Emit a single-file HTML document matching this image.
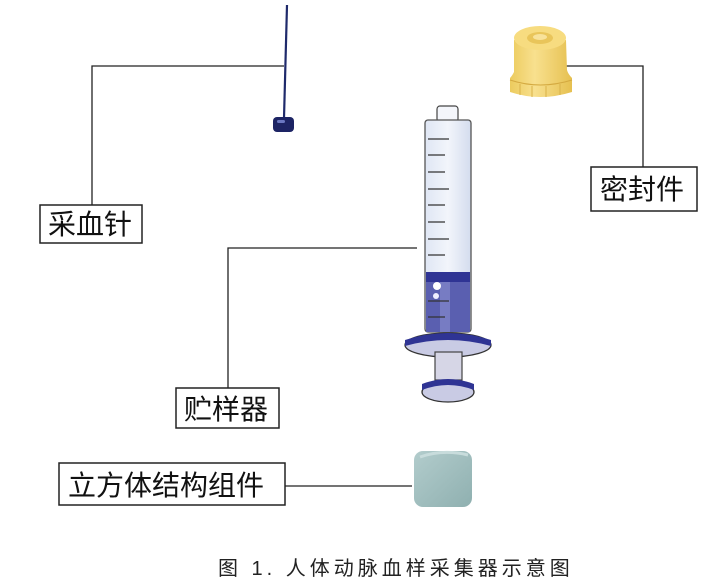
<!DOCTYPE html>
<html><head><meta charset="utf-8"><style>
html,body{margin:0;padding:0;background:#fff;}
svg{display:block;}
text{font-family:"Liberation Sans","Noto Sans CJK SC",sans-serif;}
</style></head><body>
<svg width="722" height="586" viewBox="0 0 722 586" xmlns="http://www.w3.org/2000/svg">
<defs>
<linearGradient id="cap" x1="0" x2="1"><stop offset="0" stop-color="#eccb5e"/><stop offset="0.4" stop-color="#f8e08e"/><stop offset="1" stop-color="#e6c050"/></linearGradient>
<linearGradient id="cube" x1="0" x2="1" y1="0" y2="1"><stop offset="0" stop-color="#b2cccc"/><stop offset="1" stop-color="#8fb0b0"/></linearGradient>
<linearGradient id="barrel" x1="0" x2="1"><stop offset="0" stop-color="#dfe6f4"/><stop offset="0.5" stop-color="#f2f5fb"/><stop offset="1" stop-color="#d4dcee"/></linearGradient>
</defs>
<g stroke="#222" stroke-width="1.3" fill="none">
<polyline points="284,66 92,66 92,205"/>
<polyline points="564,66 643,66 643,167"/>
<polyline points="417,248 228,248 228,388"/>
<line x1="285" y1="486" x2="412" y2="486"/>
</g>
<g stroke="#222" stroke-width="1.5" fill="#fff">
<rect x="40" y="205" width="102" height="38"/>
<rect x="591" y="167" width="106" height="44"/>
<rect x="176" y="388" width="103" height="40"/>
<rect x="59" y="463" width="226" height="42"/>
</g>
<g font-size="28" fill="#111">
<text x="48" y="234">采血针</text>
<text x="600" y="199">密封件</text>
<text x="184" y="419">贮样器</text>
<text x="68" y="495">立方体结构组件</text>
</g>
<text x="218" y="575" font-size="20" fill="#222" letter-spacing="4">图 1. 人体动脉血样采集器示意图</text>
<!-- needle -->
<line x1="287" y1="5" x2="284" y2="118" stroke="#1f2a6b" stroke-width="2.2"/>
<rect x="273" y="117" width="21" height="15" rx="4" fill="#1d2464"/>
<rect x="277" y="120" width="8" height="3" rx="1.5" fill="#6b78c2"/>
<!-- cap -->
<path d="M514,40 L514,72 Q512,76 510,78 L510,92 Q540,102 572,92 L572,78 Q568,74 567,70 L566,40 Z" fill="url(#cap)"/>
<ellipse cx="540" cy="38" rx="26" ry="12" fill="#f7dc80"/>
<ellipse cx="540" cy="38" rx="13" ry="6" fill="#e9c55a"/>
<ellipse cx="540" cy="37" rx="7" ry="3" fill="#f8e29a"/>
<path d="M510,80 Q540,90 572,80" stroke="#d4a940" fill="none"/>
<g stroke="#d9b24a" stroke-width="1"><line x1="520" y1="84" x2="520" y2="95"/><line x1="532" y1="86" x2="532" y2="97"/><line x1="546" y1="86" x2="546" y2="97"/><line x1="560" y1="84" x2="560" y2="95"/></g>
<!-- syringe -->
<rect x="437" y="106" width="21" height="16" rx="3" fill="#f4f6fb" stroke="#444" stroke-width="1.2"/>
<rect x="425" y="120" width="46" height="212" rx="3" fill="url(#barrel)" stroke="#555" stroke-width="1.3"/>
<rect x="426" y="272" width="44" height="60" fill="#5a5fb0"/>
<rect x="426" y="272" width="44" height="10" fill="#2f3494"/>
<rect x="440" y="282" width="10" height="50" fill="#8a8fd0" opacity=".6"/>
<circle cx="437" cy="286" r="4" fill="#fff"/>
<circle cx="436" cy="296" r="3" fill="#eef"/>
<g stroke="#333" stroke-width="1.3">
<line x1="428" y1="139" x2="449" y2="139"/><line x1="428" y1="155" x2="445" y2="155"/>
<line x1="428" y1="172" x2="445" y2="172"/><line x1="428" y1="189" x2="449" y2="189"/>
<line x1="428" y1="205" x2="445" y2="205"/><line x1="428" y1="222" x2="445" y2="222"/>
<line x1="428" y1="239" x2="449" y2="239"/><line x1="428" y1="255" x2="445" y2="255"/>
<line x1="428" y1="301" x2="449" y2="301"/><line x1="428" y1="317" x2="445" y2="317"/>
</g>
<ellipse cx="448" cy="345" rx="43" ry="12" fill="#c9cbe4" stroke="#333" stroke-width="1.3"/>
<path d="M405,340 Q448,326 491,340 L491,346 Q448,334 405,346 Z" fill="#2f3494"/>
<rect x="435" y="352" width="27" height="28" fill="#d6d6e6" stroke="#444" stroke-width="1.2"/>
<ellipse cx="448" cy="392" rx="26" ry="10" fill="#c9cbe4" stroke="#333" stroke-width="1.3"/>
<path d="M422,384 Q448,374 474,384 L474,390 Q448,380 422,390 Z" fill="#2f3494"/>
<!-- cube -->
<rect x="414" y="451" width="58" height="56" rx="9" fill="url(#cube)"/>
<path d="M420,457 Q443,449 468,455" stroke="#c8dcdc" stroke-width="3" fill="none"/>
</svg>
</body></html>
